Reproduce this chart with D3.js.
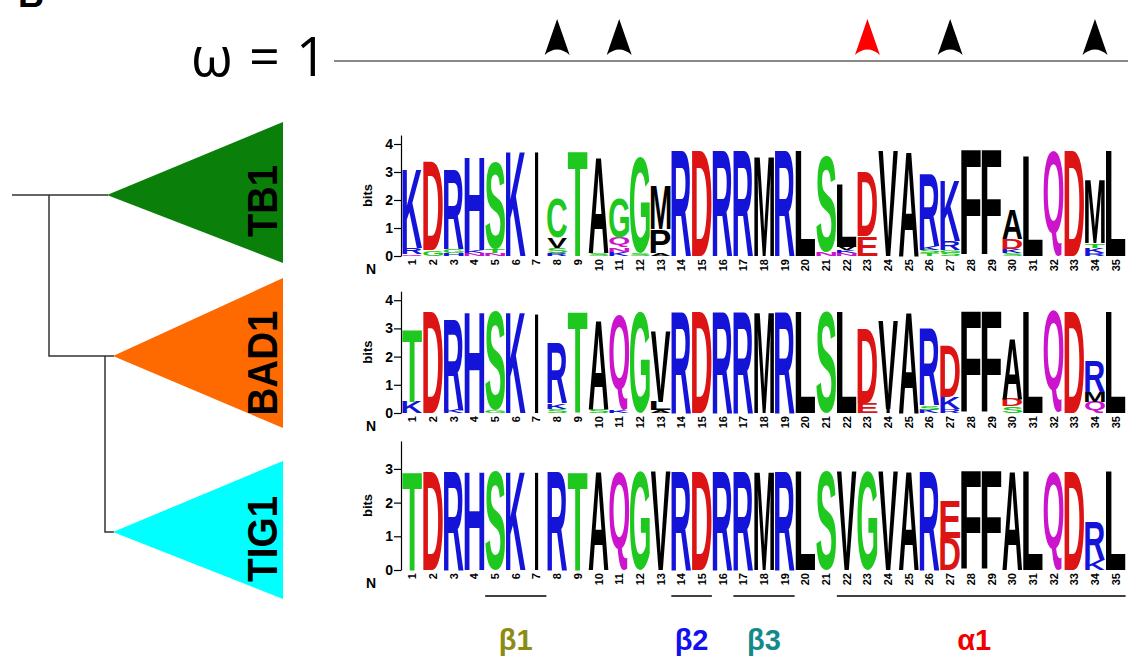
<!DOCTYPE html>
<html><head><meta charset="utf-8">
<script src="https://cdn.jsdelivr.net/npm/d3@7/dist/d3.min.js"></script>
<style>html,body{margin:0;padding:0;background:#fff;}svg{display:block;}</style>
</head><body>
<svg id="chart" width="1128" height="656"></svg>
<script>
// ---------------- DATA ----------------
const positions = d3.range(1, 36);
const cladeNames = ["TB1", "BAD1", "TIG1"];
const cladeColors = ["#0a7f0a", "#ff6a00", "#00ffff"];
const bitTicks = [[0,1,2,3,4],[0,1,2,3,4],[0,1,2,3]];
const arrowPositions = [8, 11, 23, 27, 34];
const arrowColors = ["#000", "#000", "#ff0000", "#000", "#000"];
const ssLabels = ["β1", "β2", "β3", "α1"];
const ssStart = [5, 14, 17, 22];
const ssEnd = [7, 15, 19, 35];
const ssColors = ["#8c8c14", "#1010f0", "#138a8a", "#f00000"];

// letter stacks (bottom -> top), heights in bits
const tb1Logo = [
  [["Q",0.08],["R",0.22],["K",2.83]],
  [["G",0.2],["D",3.17]],
  [["H",0.1],["G",0.15],["R",2.85]],
  [["N",0.1],["K",0.1],["H",3.32]],
  [["N",0.1],["T",0.15],["S",3.12]],
  [["K",3.76]],
  [["I",3.76]],
  [["R",0.1],["S",0.2],["V",0.35],["C",1.41]],
  [["T",3.76]],
  [["S",0.1],["A",3.45]],
  [["K",0.15],["N",0.15],["Q",0.35],["G",1.41]],
  [["S",0.1],["G",3.45]],
  [["A",0.1],["P",0.85],["M",1.59]],
  [["R",3.76]],
  [["D",3.76]],
  [["R",3.76]],
  [["R",3.76]],
  [["M",3.55]],
  [["R",3.76]],
  [["L",3.76]],
  [["N",0.12],["S",3.43]],
  [["N",0.1],["K",0.1],["V",0.12],["L",2.22]],
  [["E",0.7],["D",2.3]],
  [["V",3.76]],
  [["A",3.76]],
  [["T",0.1],["S",0.12],["K",0.15],["R",2.58]],
  [["S",0.12],["G",0.1],["R",0.3],["K",2.19]],
  [["F",3.76]],
  [["F",3.76]],
  [["S",0.1],["K",0.15],["D",0.35],["A",1.04]],
  [["L",3.55]],
  [["Q",3.76]],
  [["D",3.76]],
  [["R",0.1],["K",0.2],["T",0.15],["M",2.26]],
  [["L",3.76]]
];
const bad1Logo = [
  [["K",0.4],["T",2.56]],
  [["D",3.6]],
  [["K",0.12],["R",3.22]],
  [["H",3.6]],
  [["G",0.1],["S",3.5]],
  [["K",3.6]],
  [["I",3.55]],
  [["S",0.15],["K",0.2],["R",2.14]],
  [["T",3.6]],
  [["S",0.12],["A",3.18]],
  [["K",0.1],["Q",3.4]],
  [["G",3.6]],
  [["A",0.1],["L",0.3],["V",2.5]],
  [["R",3.6]],
  [["D",3.6]],
  [["R",3.6]],
  [["R",3.6]],
  [["M",3.6]],
  [["R",3.6]],
  [["L",3.6]],
  [["S",3.6]],
  [["L",3.6]],
  [["E",0.35],["D",2.61]],
  [["I",0.15],["V",3.15]],
  [["A",3.6]],
  [["K",0.12],["S",0.15],["R",2.73]],
  [["R",0.15],["K",0.4],["D",1.82]],
  [["F",3.6]],
  [["F",3.6]],
  [["S",0.25],["D",0.25],["A",2.16]],
  [["L",3.6]],
  [["Q",3.6]],
  [["D",3.6]],
  [["Q",0.4],["M",0.35],["R",1.08]],
  [["L",3.6]]
];
const tig1Logo = [
  [["T",2.92]],[["D",2.92]],[["R",2.92]],[["H",2.92]],[["S",2.92]],
  [["K",2.92]],[["I",2.92]],[["R",2.92]],[["T",2.92]],[["A",2.92]],
  [["Q",2.92]],[["G",2.92]],[["V",2.92]],[["R",2.92]],[["D",2.92]],
  [["R",2.92]],[["R",2.92]],[["M",2.92]],[["R",2.92]],[["L",2.92]],
  [["S",2.92]],[["V",2.92]],[["G",2.92]],[["V",2.92]],[["A",2.92]],
  [["R",2.92]],[["D",0.95],["E",1.08]],[["F",2.92]],[["F",2.92]],[["A",2.92]],
  [["L",2.92]],[["Q",2.92]],[["D",2.92]],[["K",0.3],["R",1.15]],[["L",2.92]]
];
const logos = [tb1Logo, bad1Logo, tig1Logo];

// ---------------- LAYOUT ----------------
const FONT = "'Liberation Sans', Arial, Helvetica, sans-serif";
const svg = d3.select("#chart");
const panelBase = [256, 413, 570];
const panelPxPerBit = [28, 28.2, 33.7];
const panelMax = [4.32, 4.32, 3.83];

const x = d3.scaleBand().domain(positions).range([402, 1126]).paddingInner(0.04).paddingOuter(0.02);

const colorOf = ch => {
  if ("KRH".includes(ch)) return "#1414d9";
  if ("DE".includes(ch)) return "#dc1414";
  if ("GSTYC".includes(ch)) return "#1fc81f";
  if ("NQ".includes(ch)) return "#cc14cc";
  return "#000000";
};

const ctx = document.createElement("canvas").getContext("2d");
ctx.font = "bold 100px 'Liberation Sans'";
const metricCache = {};
function metric(ch) {
  if (!metricCache[ch]) {
    const m = ctx.measureText(ch);
    metricCache[ch] = {L: m.actualBoundingBoxLeft, R: m.actualBoundingBoxRight,
                       A: m.actualBoundingBoxAscent, D: m.actualBoundingBoxDescent};
  }
  return metricCache[ch];
}

// "B" panel letter (cropped at top, as in the reference)
svg.append("text").attr("x", 18).attr("y", 7).attr("font-family", FONT)
  .attr("font-weight", "bold").attr("font-size", 36).text("B");

// omega line and arrows
svg.append("text").attr("x", 327).attr("y", 76).attr("text-anchor", "end")
  .attr("font-family", "'Open Sans', 'Liberation Sans', sans-serif").attr("font-size", 54)
  .attr("textLength", 136).attr("lengthAdjust", "spacing").text("ω = 1");
svg.append("line").attr("x1", 334).attr("x2", 1128).attr("y1", 61).attr("y2", 61)
  .attr("stroke", "#888").attr("stroke-width", 2);
arrowPositions.forEach((p, i) => {
  const cx = x(p) + x.bandwidth() / 2, top = 19, bot = 55, hw = 12.5;
  svg.append("path")
    .attr("d", `M${cx},${top} L${cx + hw},${bot} Q${cx},${bot - 11} ${cx - hw},${bot} Z`)
    .attr("fill", arrowColors[i]);
});

// tree
const tree = svg.append("g").attr("stroke", "#333").attr("stroke-width", 1.5).attr("fill", "none");
const tY = [195, 356, 532];
tree.append("path").attr("d", `M12,${tY[0]} H108 M49,${tY[0]} V${tY[1]} H114 M105,${tY[1]} V${tY[2]} H114`);
const triTop = [122, 278, 461], triBot = [263, 428, 599], apexX = [107, 113, 113];
cladeNames.forEach((n, i) => {
  svg.append("path").attr("d", `M${apexX[i]},${tY[i]} L283,${triTop[i]} L283,${triBot[i]} Z`)
    .attr("fill", cladeColors[i]);
});
const labLen = [72, 105, 86];
const labY = [201, 363, 539];
cladeNames.forEach((n, i) => {
  svg.append("text").attr("transform", `translate(277,${labY[i]}) rotate(-90)`)
    .attr("text-anchor", "middle").attr("font-family", FONT).attr("font-weight", "bold")
    .attr("font-size", 43).attr("textLength", labLen[i]).attr("lengthAdjust", "spacingAndGlyphs")
    .attr("fill", "#000").text(n);
});

// logos
logos.forEach((logo, pi) => {
  const y0 = panelBase[pi], ppb = panelPxPerBit[pi];
  const y = d3.scaleLinear().domain([0, panelMax[pi]]).range([y0, y0 - panelMax[pi] * ppb]);
  const g = svg.append("g");
  const ax = g.append("g").attr("transform", "translate(401,0)")
    .call(d3.axisLeft(y).tickValues(bitTicks[pi]).tickSize(7).tickSizeOuter(0).tickFormat(d3.format("d")));
  ax.select(".domain").attr("stroke", "#000").attr("stroke-width", 1.2);
  ax.selectAll(".tick line").attr("stroke", "#000").attr("stroke-width", 1.2);
  ax.selectAll(".tick text").attr("font-family", FONT).attr("font-weight", "bold")
    .attr("font-size", 14).attr("fill", "#000").attr("x", -8);
  g.append("text").attr("transform", `translate(372,${(y(0) + y(panelMax[pi])) / 2}) rotate(-90)`)
    .attr("text-anchor", "middle").attr("font-family", FONT).attr("font-weight", "bold")
    .attr("font-size", 13).text("bits");
  g.append("text").attr("x", 366).attr("y", y0 + 18).attr("font-family", FONT)
    .attr("font-weight", "bold").attr("font-size", 14).text("N");

  logo.forEach((stack, ci) => {
    const p = positions[ci];
    let cum = 0;
    stack.forEach(([ch, h]) => {
      const yb = y(cum), yt = y(cum + h);
      cum += h;
      const hh = yb - yt;
      if (hh < 0.6) return;
      const m = metric(ch);
      const iw = m.L + m.R, ih = m.A + m.D;
      const w = x.bandwidth();
      let sx = w / iw;
      if (iw < 25) sx = 0.22;
      const sy = hh / ih;
      const inkC = (m.R - m.L) / 2;
      const tx = x(p) + w / 2 - inkC * sx;
      const ty = yt + m.A * sy;
      g.append("text").attr("transform", `translate(${tx},${ty}) scale(${sx},${sy})`)
        .attr("font-family", FONT).attr("font-weight", "bold").attr("font-size", 100)
        .attr("fill", colorOf(ch)).text(ch);
    });
    g.append("text").attr("transform", `translate(${x(p) + x.bandwidth() / 2 + 4},${y0 + 3}) rotate(-90)`)
      .attr("text-anchor", "end").attr("font-family", FONT).attr("font-weight", "bold")
      .attr("font-size", 11).attr("fill", "#000").text(p);
  });
});

// secondary structure
ssLabels.forEach((lab, i) => {
  const x1 = x(ssStart[i]), x2 = x(ssEnd[i]) + x.bandwidth();
  svg.append("line").attr("x1", x1).attr("x2", x2).attr("y1", 596).attr("y2", 596)
    .attr("stroke", "#000").attr("stroke-width", 1.5);
  const cx = i === 3 ? (x1 + x2) / 2 - 7 : (x1 + x2) / 2;
  svg.append("text").attr("x", cx).attr("y", 650).attr("text-anchor", "middle")
    .attr("font-family", FONT).attr("font-weight", "bold").attr("font-size", 29)
    .attr("fill", ssColors[i]).text(lab);
});
</script>
</body></html>
